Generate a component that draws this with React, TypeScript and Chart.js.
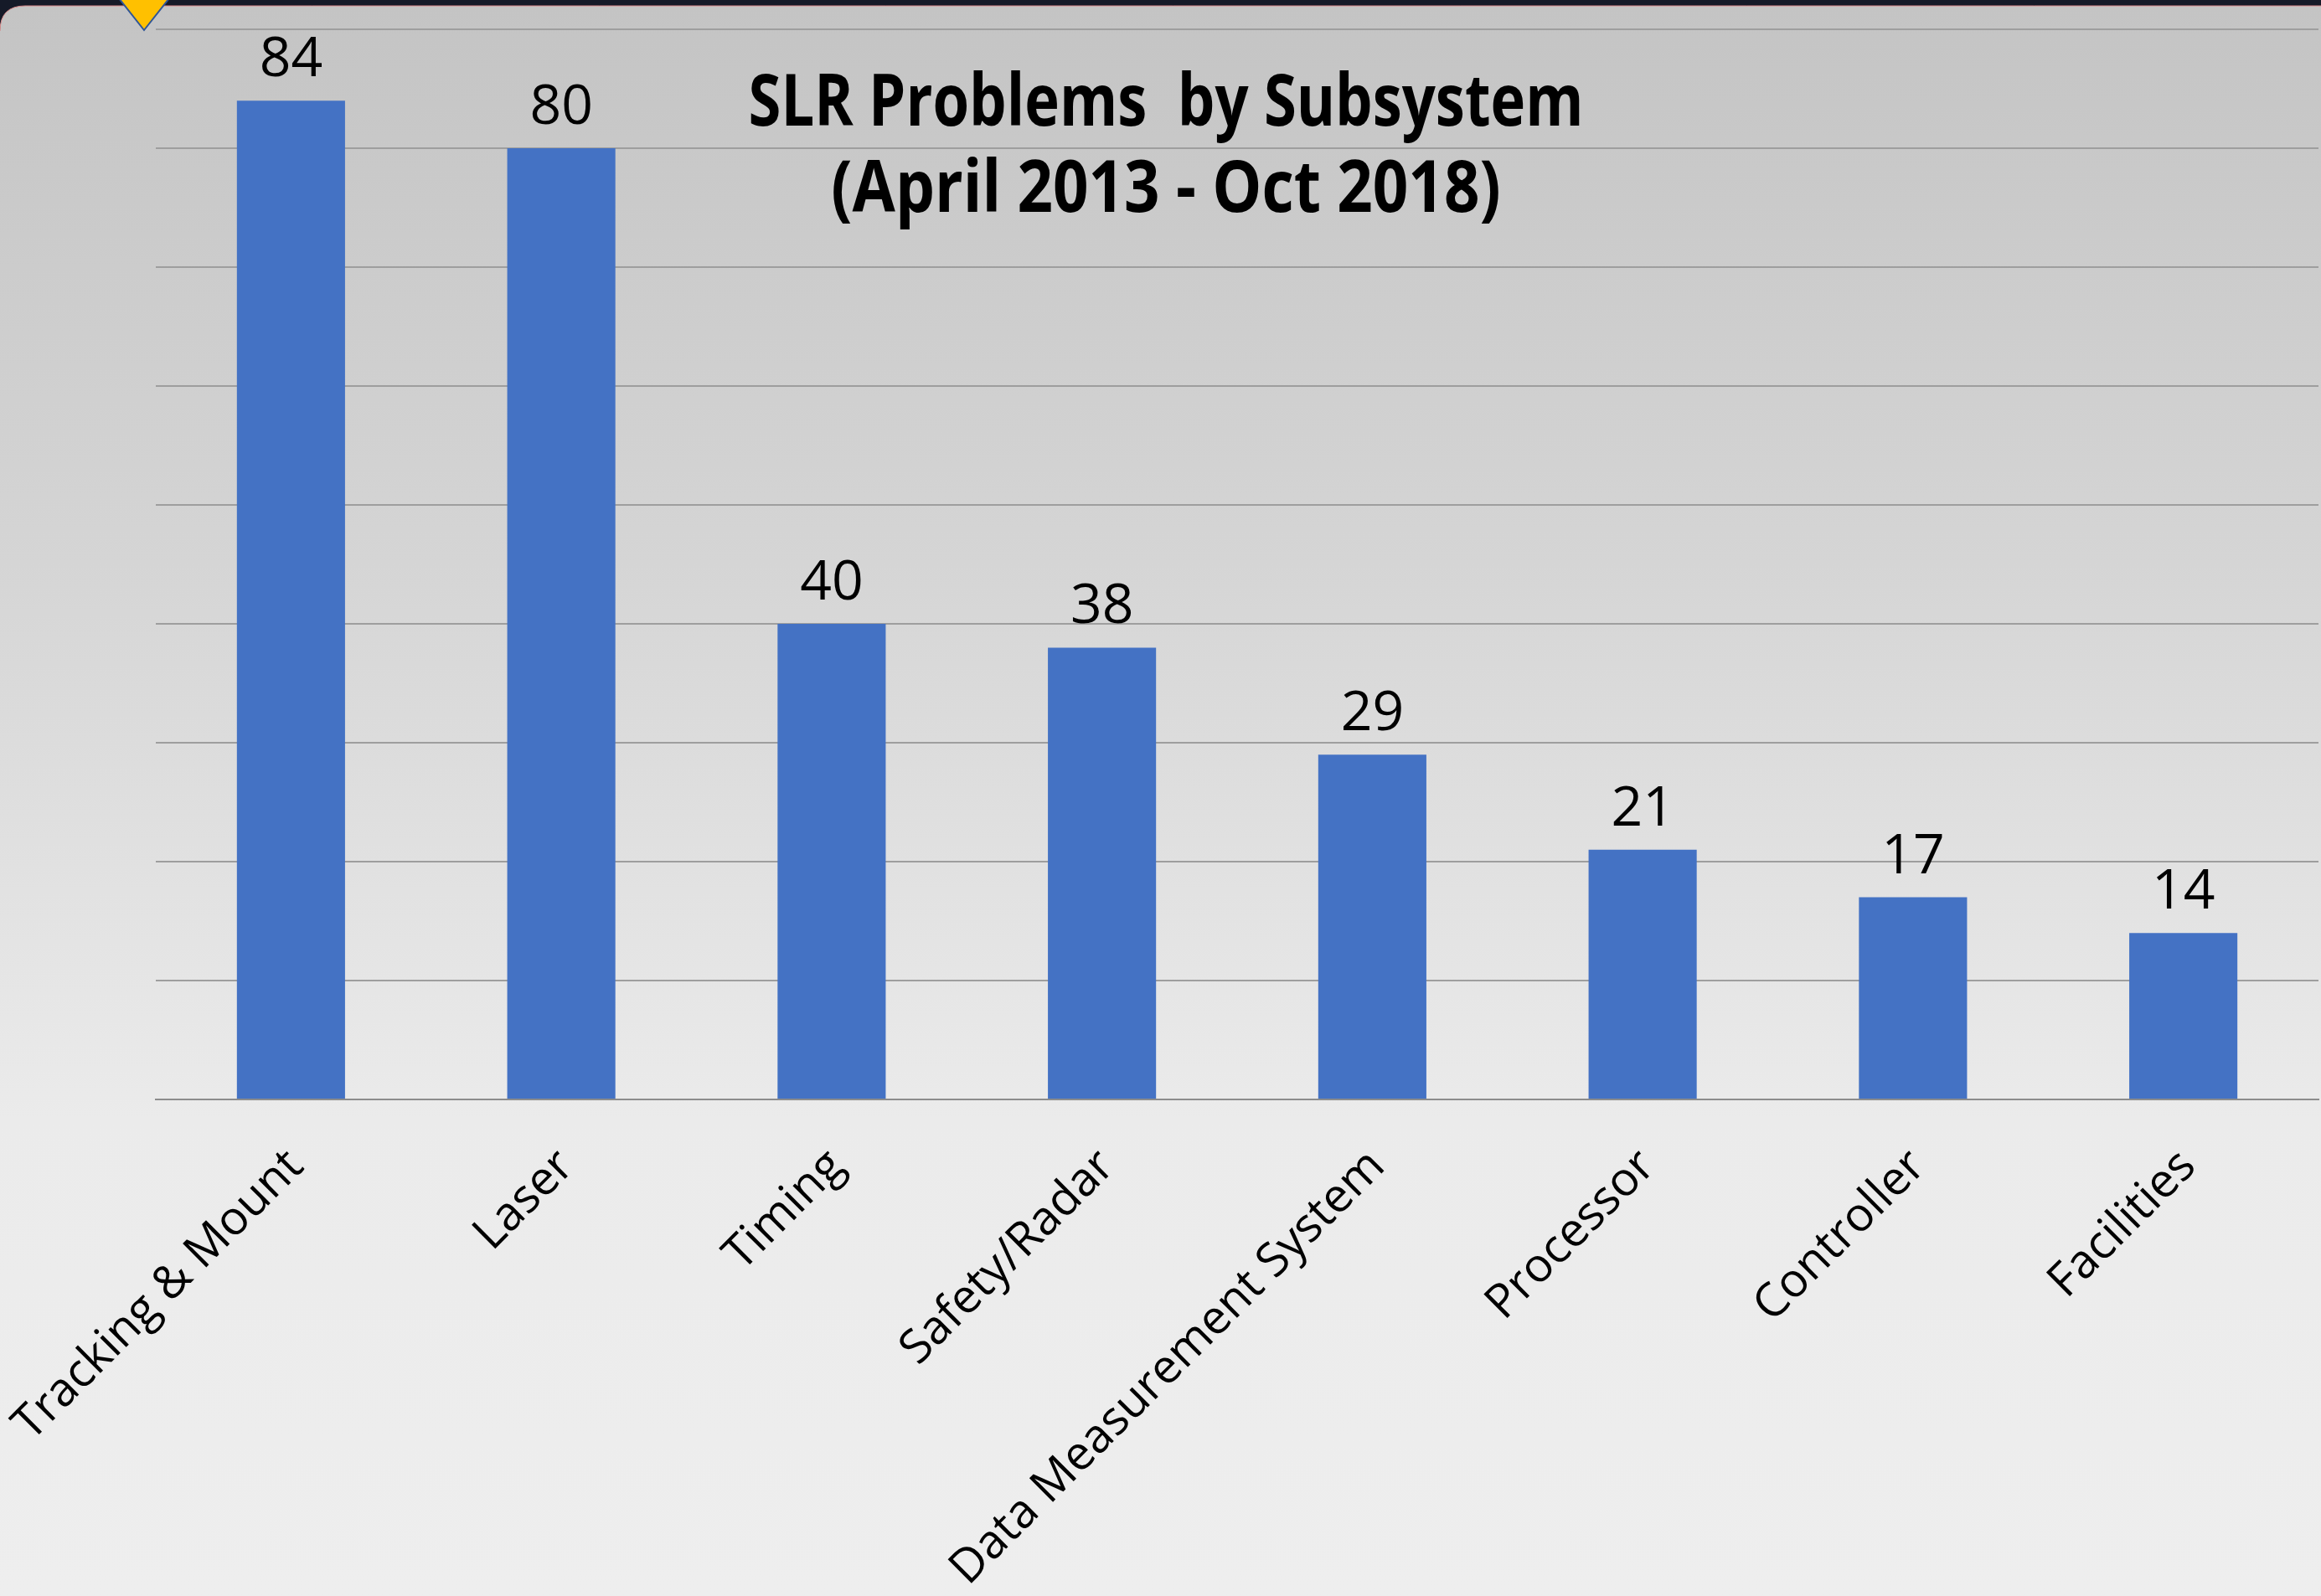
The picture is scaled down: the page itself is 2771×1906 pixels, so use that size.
import React, { useEffect, useRef } from 'react';
import { Chart, registerables } from 'chart.js';

Chart.register(...registerables);

const categories = [
  'Tracking & Mount',
  'Laser',
  'Timing',
  'Safety/Radar',
  'Data Measurement System',
  'Processor',
  'Controller',
  'Facilities',
];
const problemCounts = [84, 80, 40, 38, 29, 21, 17, 14];
const titleLines = ['SLR Problems  by Subsystem', '(April 2013 - Oct 2018)'];
const yMax = 90;
const yStep = 10;

const W = 2771;
const H = 1906;

export default function App() {
  const ref = useRef<HTMLCanvasElement>(null);

  useEffect(() => {
    document.body.style.margin = '0';
    const canvas = ref.current;
    if (!canvas) return;

    const background = {
      id: 'background',
      beforeDraw(chart: any) {
        const ctx = chart.ctx;
        ctx.save();
        ctx.fillStyle = '#151a28';
        ctx.fillRect(0, 0, W, H);
        const top = 7;
        const r = 30;
        const g = ctx.createLinearGradient(0, top, 0, H);
        g.addColorStop(0, '#c4c4c4');
        g.addColorStop(0.35, '#d5d5d5');
        g.addColorStop(0.7, '#ebebeb');
        g.addColorStop(1, '#eeeeee');
        ctx.beginPath();
        ctx.moveTo(0, H);
        ctx.lineTo(0, top + r);
        ctx.quadraticCurveTo(0, top, r, top);
        ctx.lineTo(W, top);
        ctx.lineTo(W, H);
        ctx.closePath();
        ctx.fillStyle = g;
        ctx.fill();
        ctx.strokeStyle = '#d98a8a';
        ctx.lineWidth = 1;
        ctx.beginPath();
        ctx.moveTo(0, top + r);
        ctx.quadraticCurveTo(0, top, r, top);
        ctx.lineTo(W, top);
        ctx.stroke();
        ctx.restore();
      },
    };

    const marker = {
      id: 'marker',
      afterDraw(chart: any) {
        const ctx = chart.ctx;
        ctx.save();
        ctx.beginPath();
        ctx.moveTo(142, -2);
        ctx.lineTo(202, -2);
        ctx.lineTo(172, 36);
        ctx.closePath();
        ctx.fillStyle = '#ffc000';
        ctx.fill();
        ctx.strokeStyle = '#2f5597';
        ctx.lineWidth = 2;
        ctx.stroke();
        ctx.restore();
      },
    };

    const valueLabels = {
      id: 'valueLabels',
      afterDatasetsDraw(chart: any) {
        const ctx = chart.ctx;
        const meta = chart.getDatasetMeta(0);
        ctx.save();
        ctx.font = '66px "Open Sans"';
        ctx.fillStyle = '#000000';
        ctx.textAlign = 'center';
        ctx.textBaseline = 'alphabetic';
        meta.data.forEach((bar: any, i: number) => {
          ctx.fillText(String(problemCounts[i]), bar.x, bar.y - 29);
        });
        ctx.restore();
      },
    };

    const overlayTitle = {
      id: 'overlayTitle',
      afterDraw(chart: any) {
        const ctx = chart.ctx;
        ctx.save();
        ctx.font = 'bold 86px "Open Sans"';
        ctx.fillStyle = '#000000';
        ctx.textAlign = 'center';
        ctx.textBaseline = 'alphabetic';
        const cx = 1392;
        const baselines = [150, 253];
        const squeeze = [0.82, 0.865];
        titleLines.forEach((line, i) => {
          ctx.save();
          ctx.translate(cx, baselines[i]);
          ctx.scale(squeeze[i], 1);
          ctx.fillText(line, 0, 0);
          ctx.restore();
        });
        ctx.restore();
      },
    };

    const chart = new Chart(canvas, {
      type: 'bar',
      data: {
        labels: categories,
        datasets: [
          {
            data: problemCounts,
            backgroundColor: '#4472c4',
            borderWidth: 0,
            barPercentage: 0.4,
            categoryPercentage: 1,
          },
        ],
      },
      options: {
        responsive: false,
        animation: false,
        devicePixelRatio: 1,
        layout: { padding: { top: 35, right: 3, left: 0, bottom: 0 } },
        plugins: {
          legend: { display: false },
          title: { display: false },
          tooltip: { enabled: false },
        },
        scales: {
          x: {
            grid: { display: false },
            border: { display: true, color: '#8c8c8c', width: 2 },
            ticks: {
              autoSkip: false,
              minRotation: 45,
              maxRotation: 45,
              padding: 39,
              labelOffset: 6,
              color: '#000000',
              font: { family: '"Open Sans"', size: 56 },
            },
            afterFit(scale: any) {
              scale.height = H - 1313;
              scale.paddingLeft = 0;
              scale.paddingRight = 0;
            },
          },
          y: {
            min: 0,
            max: yMax,
            ticks: { display: false, stepSize: yStep },
            border: { display: false },
            grid: { color: '#9e9e9e', lineWidth: 2, drawTicks: false },
            afterFit(scale: any) {
              scale.width = 186;
              scale.paddingTop = 0;
              scale.paddingBottom = 0;
            },
          },
        },
      },
      plugins: [background, valueLabels, overlayTitle, marker],
    });

    return () => chart.destroy();
  }, []);

  return (
    <canvas
      ref={ref}
      width={W}
      height={H}
      style={{ display: 'block', width: W, height: H }}
    />
  );
}
